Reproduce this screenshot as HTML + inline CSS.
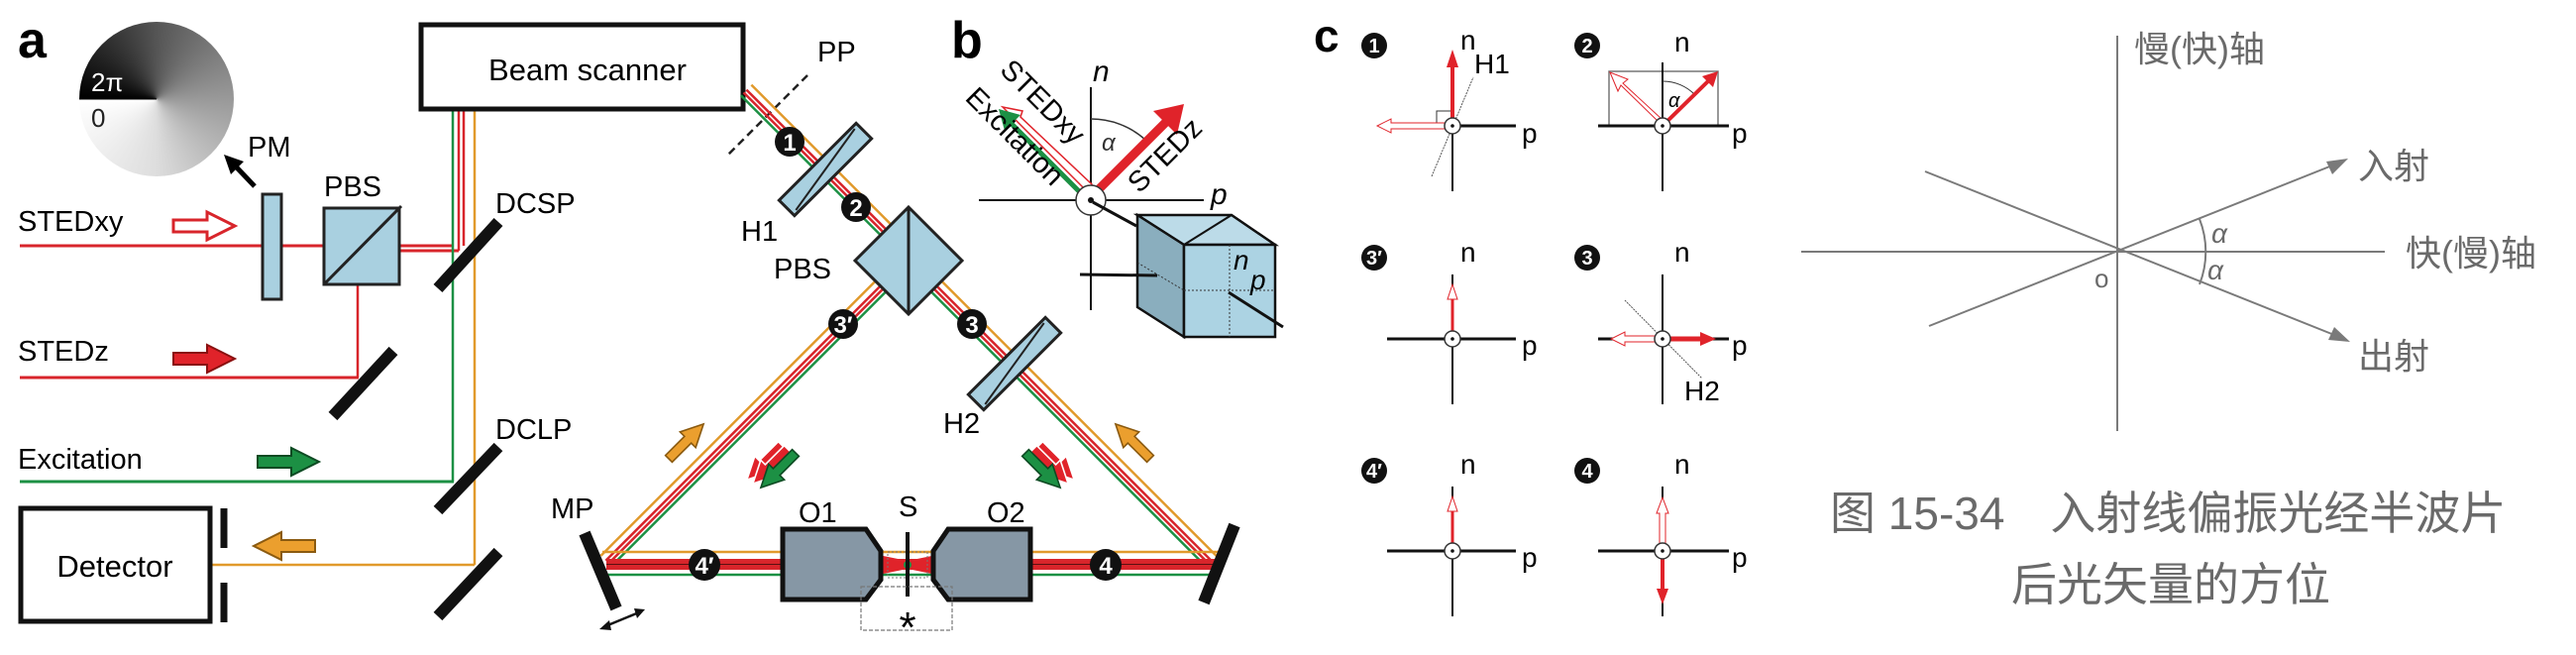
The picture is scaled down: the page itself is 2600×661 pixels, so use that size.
<!DOCTYPE html>
<html><head><meta charset="utf-8"><style>
html,body{margin:0;padding:0;background:#fff;}
body{width:2600px;height:661px;position:relative;overflow:hidden;}
#disk{position:absolute;left:80px;top:22px;width:156px;height:156px;border-radius:50%;background:conic-gradient(from 270deg,#000,#555 25%,#999 50%,#ddd 75%,#fff);}
svg{position:absolute;left:0;top:0;}
text{font-family:"Liberation Sans",Arial,sans-serif;}
</style></head><body>
<div id="disk"></div>
<svg width="2600" height="661" viewBox="0 0 2600 661" xmlns="http://www.w3.org/2000/svg">
<defs>
<g id="arrR"><polygon points="-30,-6 4,-6 4,-14 32,0 4,14 4,6 -30,6"/></g>
</defs>
<!-- labels a -->
<text x="18" y="58" font-size="52" font-weight="bold">a</text>
<text x="92" y="92" font-size="26" fill="#fff">2π</text>
<text x="92" y="128" font-size="26" fill="#222">0</text>
<line x1="80" y1="100" x2="158" y2="100" stroke="#000" stroke-width="1"/>
<line x1="257" y1="188" x2="236" y2="166" stroke="#000" stroke-width="5"/>
<polygon points="226,156 246,163 233,176" fill="#000"/>
<text x="250" y="158" font-size="29">PM</text>
<text x="327" y="198" font-size="29">PBS</text>
<text x="18" y="233" font-size="29">STEDxy</text>
<text x="18" y="364" font-size="29">STEDz</text>
<text x="18" y="473" font-size="29">Excitation</text>
<text x="500" y="215" font-size="29">DCSP</text>
<text x="500" y="443" font-size="29">DCLP</text>
<!-- input beams -->
<line x1="20" y1="248" x2="458" y2="248" stroke="#d8252b" stroke-width="3"/>
<line x1="403" y1="253" x2="463" y2="253" stroke="#d8252b" stroke-width="3"/>
<line x1="20" y1="381" x2="362" y2="381" stroke="#d8252b" stroke-width="3"/>
<line x1="361" y1="287" x2="361" y2="381" stroke="#d8252b" stroke-width="2.5"/>
<line x1="20" y1="486" x2="458" y2="486" stroke="#1c9044" stroke-width="3"/>
<line x1="457" y1="110" x2="457" y2="486" stroke="#1c9044" stroke-width="2.5"/>
<line x1="463" y1="110" x2="463" y2="253" stroke="#d8252b" stroke-width="2.5"/>
<line x1="468" y1="110" x2="468" y2="248" stroke="#d8252b" stroke-width="2.5"/>
<line x1="479" y1="110" x2="479" y2="570" stroke="#e19a2c" stroke-width="2.5"/>
<line x1="212" y1="570" x2="479" y2="570" stroke="#e19a2c" stroke-width="2.5"/>
<rect x="265" y="196" width="19" height="106" fill="#a9d0e0" stroke="#222" stroke-width="3"/>
<rect x="327" y="210" width="76" height="77" fill="#a9d0e0" stroke="#222" stroke-width="3"/>
<line x1="327" y1="287" x2="405" y2="208" stroke="#222" stroke-width="3"/>
<g stroke="#111" stroke-width="12">
<line x1="503" y1="224" x2="442" y2="291"/>
<line x1="397" y1="354" x2="336" y2="420"/>
<line x1="503" y1="451" x2="442" y2="515"/>
<line x1="503" y1="557" x2="442" y2="622"/>
</g>
<use href="#arrR" transform="translate(205,228)" fill="#fff" stroke="#d8252b" stroke-width="3"/>
<use href="#arrR" transform="translate(205,362)" fill="#e0232a" stroke="#8a1010" stroke-width="2"/>
<use href="#arrR" transform="translate(290,466)" fill="#1c9044" stroke="#0d4a22" stroke-width="2"/>
<use href="#arrR" transform="translate(288,551) rotate(180)" fill="#eb9f2e" stroke="#8a5a10" stroke-width="2"/>
<rect x="21" y="513" width="191" height="114" fill="#fff" stroke="#111" stroke-width="5"/>
<text x="116" y="582" font-size="31" text-anchor="middle">Detector</text>
<line x1="226" y1="513" x2="226" y2="553" stroke="#111" stroke-width="7"/>
<line x1="226" y1="588" x2="226" y2="628" stroke="#111" stroke-width="7"/>
<rect x="425" y="25" width="325" height="85" fill="#fff" stroke="#111" stroke-width="5"/>
<text x="593" y="81" font-size="31" text-anchor="middle">Beam scanner</text>
<line x1="815" y1="76" x2="733" y2="158" stroke="#222" stroke-width="2.5" stroke-dasharray="8,5"/>
<text x="825" y="62" font-size="29">PP</text>
<g transform="translate(752,92) rotate(45)" stroke-width="2.5">
<line x1="0" y1="-9" x2="200" y2="-9" stroke="#e19a2c"/>
<line x1="0" y1="-2" x2="200" y2="-2" stroke="#d8252b"/>
<line x1="0" y1="2" x2="200" y2="2" stroke="#d8252b"/>
<line x1="0" y1="6" x2="200" y2="6" stroke="#1c9044"/>
</g>
<g transform="translate(890,290) rotate(135)" stroke-width="2.5">
<line x1="0" y1="9" x2="392" y2="9" stroke="#e19a2c"/>
<line x1="0" y1="2" x2="392" y2="2" stroke="#d8252b"/>
<line x1="0" y1="-2" x2="392" y2="-2" stroke="#d8252b"/>
<line x1="0" y1="-6" x2="392" y2="-6" stroke="#1c9044"/>
</g>
<g transform="translate(944,290) rotate(45)" stroke-width="2.5">
<line x1="0" y1="-9" x2="393" y2="-9" stroke="#e19a2c"/>
<line x1="0" y1="-2" x2="393" y2="-2" stroke="#d8252b"/>
<line x1="0" y1="2" x2="393" y2="2" stroke="#d8252b"/>
<line x1="0" y1="6" x2="393" y2="6" stroke="#1c9044"/>
</g>
<line x1="608" y1="557" x2="1232" y2="557" stroke="#e19a2c" stroke-width="2.5"/>
<rect x="612" y="564" width="616" height="11" fill="#d8252b"/>
<line x1="612" y1="569.5" x2="1228" y2="569.5" stroke="#5a1010" stroke-width="1"/>
<line x1="614" y1="580" x2="1222" y2="580" stroke="#1c9044" stroke-width="2.5"/>
<g transform="translate(833,171) rotate(-45)"><rect x="-55" y="-11" width="110" height="22" fill="#a9d0e0" stroke="#222" stroke-width="3"/><line x1="-50" y1="8" x2="50" y2="-8" stroke="#222" stroke-width="2"/></g>
<g transform="translate(1024,367) rotate(-45)"><rect x="-55" y="-11" width="110" height="22" fill="#a9d0e0" stroke="#222" stroke-width="3"/><line x1="-50" y1="8" x2="50" y2="-8" stroke="#222" stroke-width="2"/></g>
<text x="748" y="243" font-size="29">H1</text>
<text x="952" y="437" font-size="29">H2</text>
<polygon points="917,209 971,263 917,317 863,263" fill="#a9d0e0" stroke="#222" stroke-width="3"/>
<line x1="917" y1="209" x2="917" y2="317" stroke="#222" stroke-width="3"/>
<text x="781" y="281" font-size="29">PBS</text>
<g font-size="24" font-weight="bold" fill="#fff" text-anchor="middle">
<circle cx="797" cy="143" r="15" fill="#111"/><text x="797" y="152">1</text>
<circle cx="864" cy="209" r="15" fill="#111"/><text x="864" y="218">2</text>
<circle cx="851" cy="327" r="15" fill="#111"/><text x="851" y="336">3′</text>
<circle cx="981" cy="327" r="15" fill="#111"/><text x="981" y="336">3</text>
<circle cx="711" cy="570" r="16" fill="#111"/><text x="711" y="579">4′</text>
<circle cx="1116" cy="570" r="16" fill="#111"/><text x="1116" y="579">4</text>
</g>
<line x1="590" y1="538" x2="622" y2="614" stroke="#111" stroke-width="12"/>
<line x1="1246" y1="530" x2="1215" y2="608" stroke="#111" stroke-width="12"/>
<text x="556" y="523" font-size="29">MP</text>
<line x1="611" y1="632" x2="645" y2="618" stroke="#111" stroke-width="2.5"/>
<polygon points="605,635 615,626 617,636" fill="#111"/><polygon points="651,615 640,614 643,624" fill="#111"/>
<polygon points="872,557 916,566 960,557 960,583 916,574 872,583" fill="#e0232a"/>
<rect x="896" y="557" width="40" height="26" fill="none" stroke="#777" stroke-width="1" stroke-dasharray="2,2"/>
<circle cx="916" cy="570" r="4" fill="#1c9044"/>
<polygon points="790,534 874,534 889,556 889,585 874,605 790,605" fill="#8697a5" stroke="#111" stroke-width="5"/>
<polygon points="1040,534 957,534 942,556 942,585 957,605 1040,605" fill="#8697a5" stroke="#111" stroke-width="5"/>
<line x1="916" y1="537" x2="916" y2="602" stroke="#111" stroke-width="4"/>
<rect x="869" y="592" width="92" height="44" fill="none" stroke="#777" stroke-width="1.2" stroke-dasharray="4,2"/>
<text x="916" y="648" font-size="44" text-anchor="middle">*</text>
<text x="806" y="527" font-size="29">O1</text>
<text x="996" y="527" font-size="29">O2</text>
<text x="907" y="521" font-size="29">S</text>
<use href="#arrR" transform="translate(692,446) rotate(-45) scale(0.8)" fill="#eb9f2e" stroke="#8a5a10" stroke-width="2"/>
<use href="#arrR" transform="translate(1144,446) rotate(-135) scale(0.8)" fill="#eb9f2e" stroke="#8a5a10" stroke-width="2"/>
<use href="#arrR" transform="translate(772,466) rotate(135) scale(0.8)" fill="#e0232a" stroke="#fff" stroke-width="2"/>
<use href="#arrR" transform="translate(778,470) rotate(135) scale(0.8)" fill="#e0232a" stroke="#fff" stroke-width="2"/>
<use href="#arrR" transform="translate(786,474) rotate(135) scale(0.8)" fill="#1c9044" stroke="#0d4a22" stroke-width="2"/>
<use href="#arrR" transform="translate(1066,466) rotate(45) scale(0.8)" fill="#e0232a" stroke="#fff" stroke-width="2"/>
<use href="#arrR" transform="translate(1060,470) rotate(45) scale(0.8)" fill="#e0232a" stroke="#fff" stroke-width="2"/>
<use href="#arrR" transform="translate(1052,474) rotate(45) scale(0.8)" fill="#1c9044" stroke="#0d4a22" stroke-width="2"/>

<!-- panel b -->
<text x="960" y="58" font-size="52" font-weight="bold">b</text>
<line x1="1101" y1="88" x2="1101" y2="313" stroke="#111" stroke-width="2"/>
<line x1="988" y1="202" x2="1215" y2="202" stroke="#111" stroke-width="2"/>
<text x="1103" y="82" font-size="30" font-style="italic">n</text>
<text x="1222" y="206" font-size="30" font-style="italic">p</text>
<path d="M1101,120 A82,82 0 0,1 1156,141" fill="none" stroke="#333" stroke-width="1.5"/>
<text x="1112" y="152" font-size="24" font-style="italic" fill="#333">α</text>
<polygon points="1097,193 1012,108 1032,112 1030,118 1102,186" fill="#fff" stroke="#e0232a" stroke-width="1.5"/>
<line x1="1092" y1="196" x2="1016" y2="120" stroke="#1c9044" stroke-width="5"/>
<polygon points="1008,110 1030,116 1014,132" fill="#1c9044"/>
<line x1="1108" y1="192" x2="1180" y2="120" stroke="#e0232a" stroke-width="9"/>
<polygon points="1195,105 1188,136 1164,112" fill="#e0232a"/>
<circle cx="1101" cy="202" r="15" fill="#fff" stroke="#333" stroke-width="1.5"/>
<circle cx="1101" cy="202" r="3" fill="#111"/>
<text transform="translate(1008,72) rotate(45)" font-size="29">STEDxy</text>
<text transform="translate(973,100) rotate(45)" font-size="29">Excitation</text>
<text transform="translate(1150,196) rotate(-45)" font-size="29">STEDz</text>
<polygon points="1148,217 1243,217 1287,247 1195,247" fill="#bcdbe8" stroke="#111" stroke-width="2.5"/>
<polygon points="1148,217 1195,247 1195,340 1148,310" fill="#8aaebe" stroke="#111" stroke-width="2.5"/>
<rect x="1195" y="247" width="92" height="93" fill="#acd3e3" stroke="#111" stroke-width="2.5"/>
<polyline points="1195,247 1243,217 1287,247" fill="none" stroke="#111" stroke-width="2"/>
<line x1="1241" y1="247" x2="1241" y2="340" stroke="#333" stroke-width="1" stroke-dasharray="2,2"/>
<line x1="1195" y1="293" x2="1287" y2="293" stroke="#333" stroke-width="1" stroke-dasharray="2,2"/>
<line x1="1148" y1="265" x2="1195" y2="293" stroke="#333" stroke-width="1" stroke-dasharray="2,2"/>
<text x="1245" y="272" font-size="28" font-style="italic">n</text>
<text x="1262" y="292" font-size="28" font-style="italic">p</text>
<line x1="1103" y1="204" x2="1147" y2="228" stroke="#111" stroke-width="3"/>
<line x1="1090" y1="277" x2="1168" y2="278" stroke="#111" stroke-width="3"/>
<line x1="1240" y1="295" x2="1295" y2="330" stroke="#111" stroke-width="3"/>

<!-- panel c -->
<text x="1326" y="52" font-size="46" font-weight="bold">c</text>
<g font-size="20" font-weight="bold" fill="#fff" text-anchor="middle">
<circle cx="1387" cy="46" r="13" fill="#111"/><text x="1387" y="53">1</text>
<circle cx="1602" cy="46" r="13" fill="#111"/><text x="1602" y="53">2</text>
<circle cx="1387" cy="260" r="13" fill="#111"/><text x="1387" y="267">3′</text>
<circle cx="1602" cy="260" r="13" fill="#111"/><text x="1602" y="267">3</text>
<circle cx="1387" cy="475" r="13" fill="#111"/><text x="1387" y="482">4′</text>
<circle cx="1602" cy="475" r="13" fill="#111"/><text x="1602" y="482">4</text>
</g>
<g font-size="28">
<text x="1474" y="50">n</text><text x="1690" y="52">n</text>
<text x="1474" y="264">n</text><text x="1690" y="264">n</text>
<text x="1474" y="478">n</text><text x="1690" y="478">n</text>
<text x="1536" y="144">p</text><text x="1748" y="144">p</text>
<text x="1536" y="358">p</text><text x="1748" y="358">p</text>
<text x="1536" y="572">p</text><text x="1748" y="572">p</text>
<text x="1488" y="74">H1</text><text x="1700" y="404">H2</text>
</g>
<line x1="1466" y1="127" x2="1466" y2="193" stroke="#111" stroke-width="2"/>
<line x1="1466" y1="127" x2="1530" y2="127" stroke="#111" stroke-width="3"/>
<line x1="1445" y1="178" x2="1487" y2="78" stroke="#555" stroke-width="1" stroke-dasharray="2,1"/>
<polyline points="1450,127 1450,112 1466,112" fill="none" stroke="#333" stroke-width="1"/>
<line x1="1466" y1="127" x2="1466" y2="66" stroke="#e0232a" stroke-width="4"/>
<polygon points="1466,50 1472,68 1460,68" fill="#e0232a"/>
<polygon points="1458,124 1404,124 1404,120 1390,127 1404,134 1404,130 1458,130" fill="#fff" stroke="#e0232a" stroke-width="1"/>
<circle cx="1466" cy="127" r="8" fill="#fff" stroke="#333" stroke-width="1.5"/><circle cx="1466" cy="127" r="1.8" fill="#111"/>
<rect x="1624" y="72" width="110" height="55" fill="none" stroke="#777" stroke-width="1.5"/>
<line x1="1678" y1="63" x2="1678" y2="193" stroke="#111" stroke-width="2"/>
<line x1="1613" y1="127" x2="1745" y2="127" stroke="#111" stroke-width="3"/>
<path d="M1678,82 A45,45 0 0,1 1711,96" fill="none" stroke="#333" stroke-width="1"/>
<text x="1684" y="108" font-size="20" font-style="italic">α</text>
<line x1="1678" y1="127" x2="1726" y2="80" stroke="#e0232a" stroke-width="4"/>
<polygon points="1734,72 1729,88 1718,77" fill="#e0232a"/>
<polygon points="1674,123 1636,86 1633,92 1625,73 1643,80 1638,84 1677,120" fill="#fff" stroke="#e0232a" stroke-width="1"/>
<circle cx="1678" cy="127" r="8" fill="#fff" stroke="#333" stroke-width="1.5"/><circle cx="1678" cy="127" r="1.8" fill="#111"/>
<line x1="1466" y1="277" x2="1466" y2="408" stroke="#111" stroke-width="2"/>
<line x1="1400" y1="342" x2="1530" y2="342" stroke="#111" stroke-width="3"/>
<line x1="1466" y1="342" x2="1466" y2="300" stroke="#e0232a" stroke-width="3"/>
<polygon points="1466,287 1471,302 1461,302" fill="#fff" stroke="#e0232a" stroke-width="1"/>
<circle cx="1466" cy="342" r="8" fill="#fff" stroke="#333" stroke-width="1.5"/><circle cx="1466" cy="342" r="1.8" fill="#111"/>
<line x1="1678" y1="277" x2="1678" y2="408" stroke="#111" stroke-width="2"/>
<line x1="1613" y1="342" x2="1745" y2="342" stroke="#111" stroke-width="3"/>
<line x1="1640" y1="303" x2="1718" y2="382" stroke="#555" stroke-width="1" stroke-dasharray="2,1"/>
<line x1="1678" y1="342" x2="1718" y2="342" stroke="#e0232a" stroke-width="5"/>
<polygon points="1732,342 1716,335 1716,349" fill="#e0232a"/>
<polygon points="1672,339 1640,339 1640,335 1626,342 1640,349 1640,345 1672,345" fill="#fff" stroke="#e0232a" stroke-width="1"/>
<circle cx="1678" cy="342" r="8" fill="#fff" stroke="#333" stroke-width="1.5"/><circle cx="1678" cy="342" r="1.8" fill="#111"/>
<line x1="1466" y1="491" x2="1466" y2="622" stroke="#111" stroke-width="2"/>
<line x1="1400" y1="556" x2="1530" y2="556" stroke="#111" stroke-width="3"/>
<line x1="1466" y1="556" x2="1466" y2="514" stroke="#e0232a" stroke-width="3"/>
<polygon points="1466,501 1471,516 1461,516" fill="#fff" stroke="#e0232a" stroke-width="1"/>
<circle cx="1466" cy="556" r="8" fill="#fff" stroke="#333" stroke-width="1.5"/><circle cx="1466" cy="556" r="1.8" fill="#111"/>
<line x1="1678" y1="491" x2="1678" y2="622" stroke="#111" stroke-width="2"/>
<line x1="1613" y1="556" x2="1745" y2="556" stroke="#111" stroke-width="3"/>
<polygon points="1675,550 1675,518 1672,518 1678,502 1684,518 1681,518 1681,550" fill="#fff" stroke="#e0232a" stroke-width="1"/>
<line x1="1678" y1="556" x2="1678" y2="596" stroke="#e0232a" stroke-width="4"/>
<polygon points="1678,610 1672,594 1684,594" fill="#e0232a"/>
<circle cx="1678" cy="556" r="8" fill="#fff" stroke="#333" stroke-width="1.5"/><circle cx="1678" cy="556" r="1.8" fill="#111"/>

<!-- right figure -->
<g stroke="#7a7a7a" stroke-width="2" fill="none">
<line x1="2137" y1="36" x2="2137" y2="435"/>
<line x1="1818" y1="254" x2="2407" y2="254"/>
<line x1="1947" y1="329" x2="2364" y2="163"/>
<line x1="1943" y1="173" x2="2366" y2="342"/>
<path d="M2220,221 A90,90 0 0,1 2220,287"/>
</g>
<polygon points="2370,160 2348,163 2354,176" fill="#7a7a7a"/>
<polygon points="2372,345 2350,343 2356,330" fill="#7a7a7a"/>
<g fill="#6a6a6a" font-family="'Liberation Serif','Noto Serif CJK SC',serif">
<text x="2154" y="62" font-size="36" font-family="'Noto Serif CJK SC',serif">慢(快)轴</text>
<text x="2380" y="180" font-size="36" font-family="'Noto Serif CJK SC',serif">入射</text>
<text x="2428" y="268" font-size="36" font-family="'Noto Serif CJK SC',serif">快(慢)轴</text>
<text x="2380" y="372" font-size="36" font-family="'Noto Serif CJK SC',serif">出射</text>
<text x="2232" y="245" font-size="28" font-style="italic">α</text>
<text x="2228" y="282" font-size="28" font-style="italic">α</text>
<text x="2114" y="290" font-size="26">o</text>
<text x="1847" y="534" font-size="46" font-family="'Noto Serif CJK SC',serif">图 15-34　入射线偏振光经半波片</text>
<text x="2030" y="606" font-size="46" font-family="'Noto Serif CJK SC',serif">后光矢量的方位</text>
</g>
</svg>
</body></html>
